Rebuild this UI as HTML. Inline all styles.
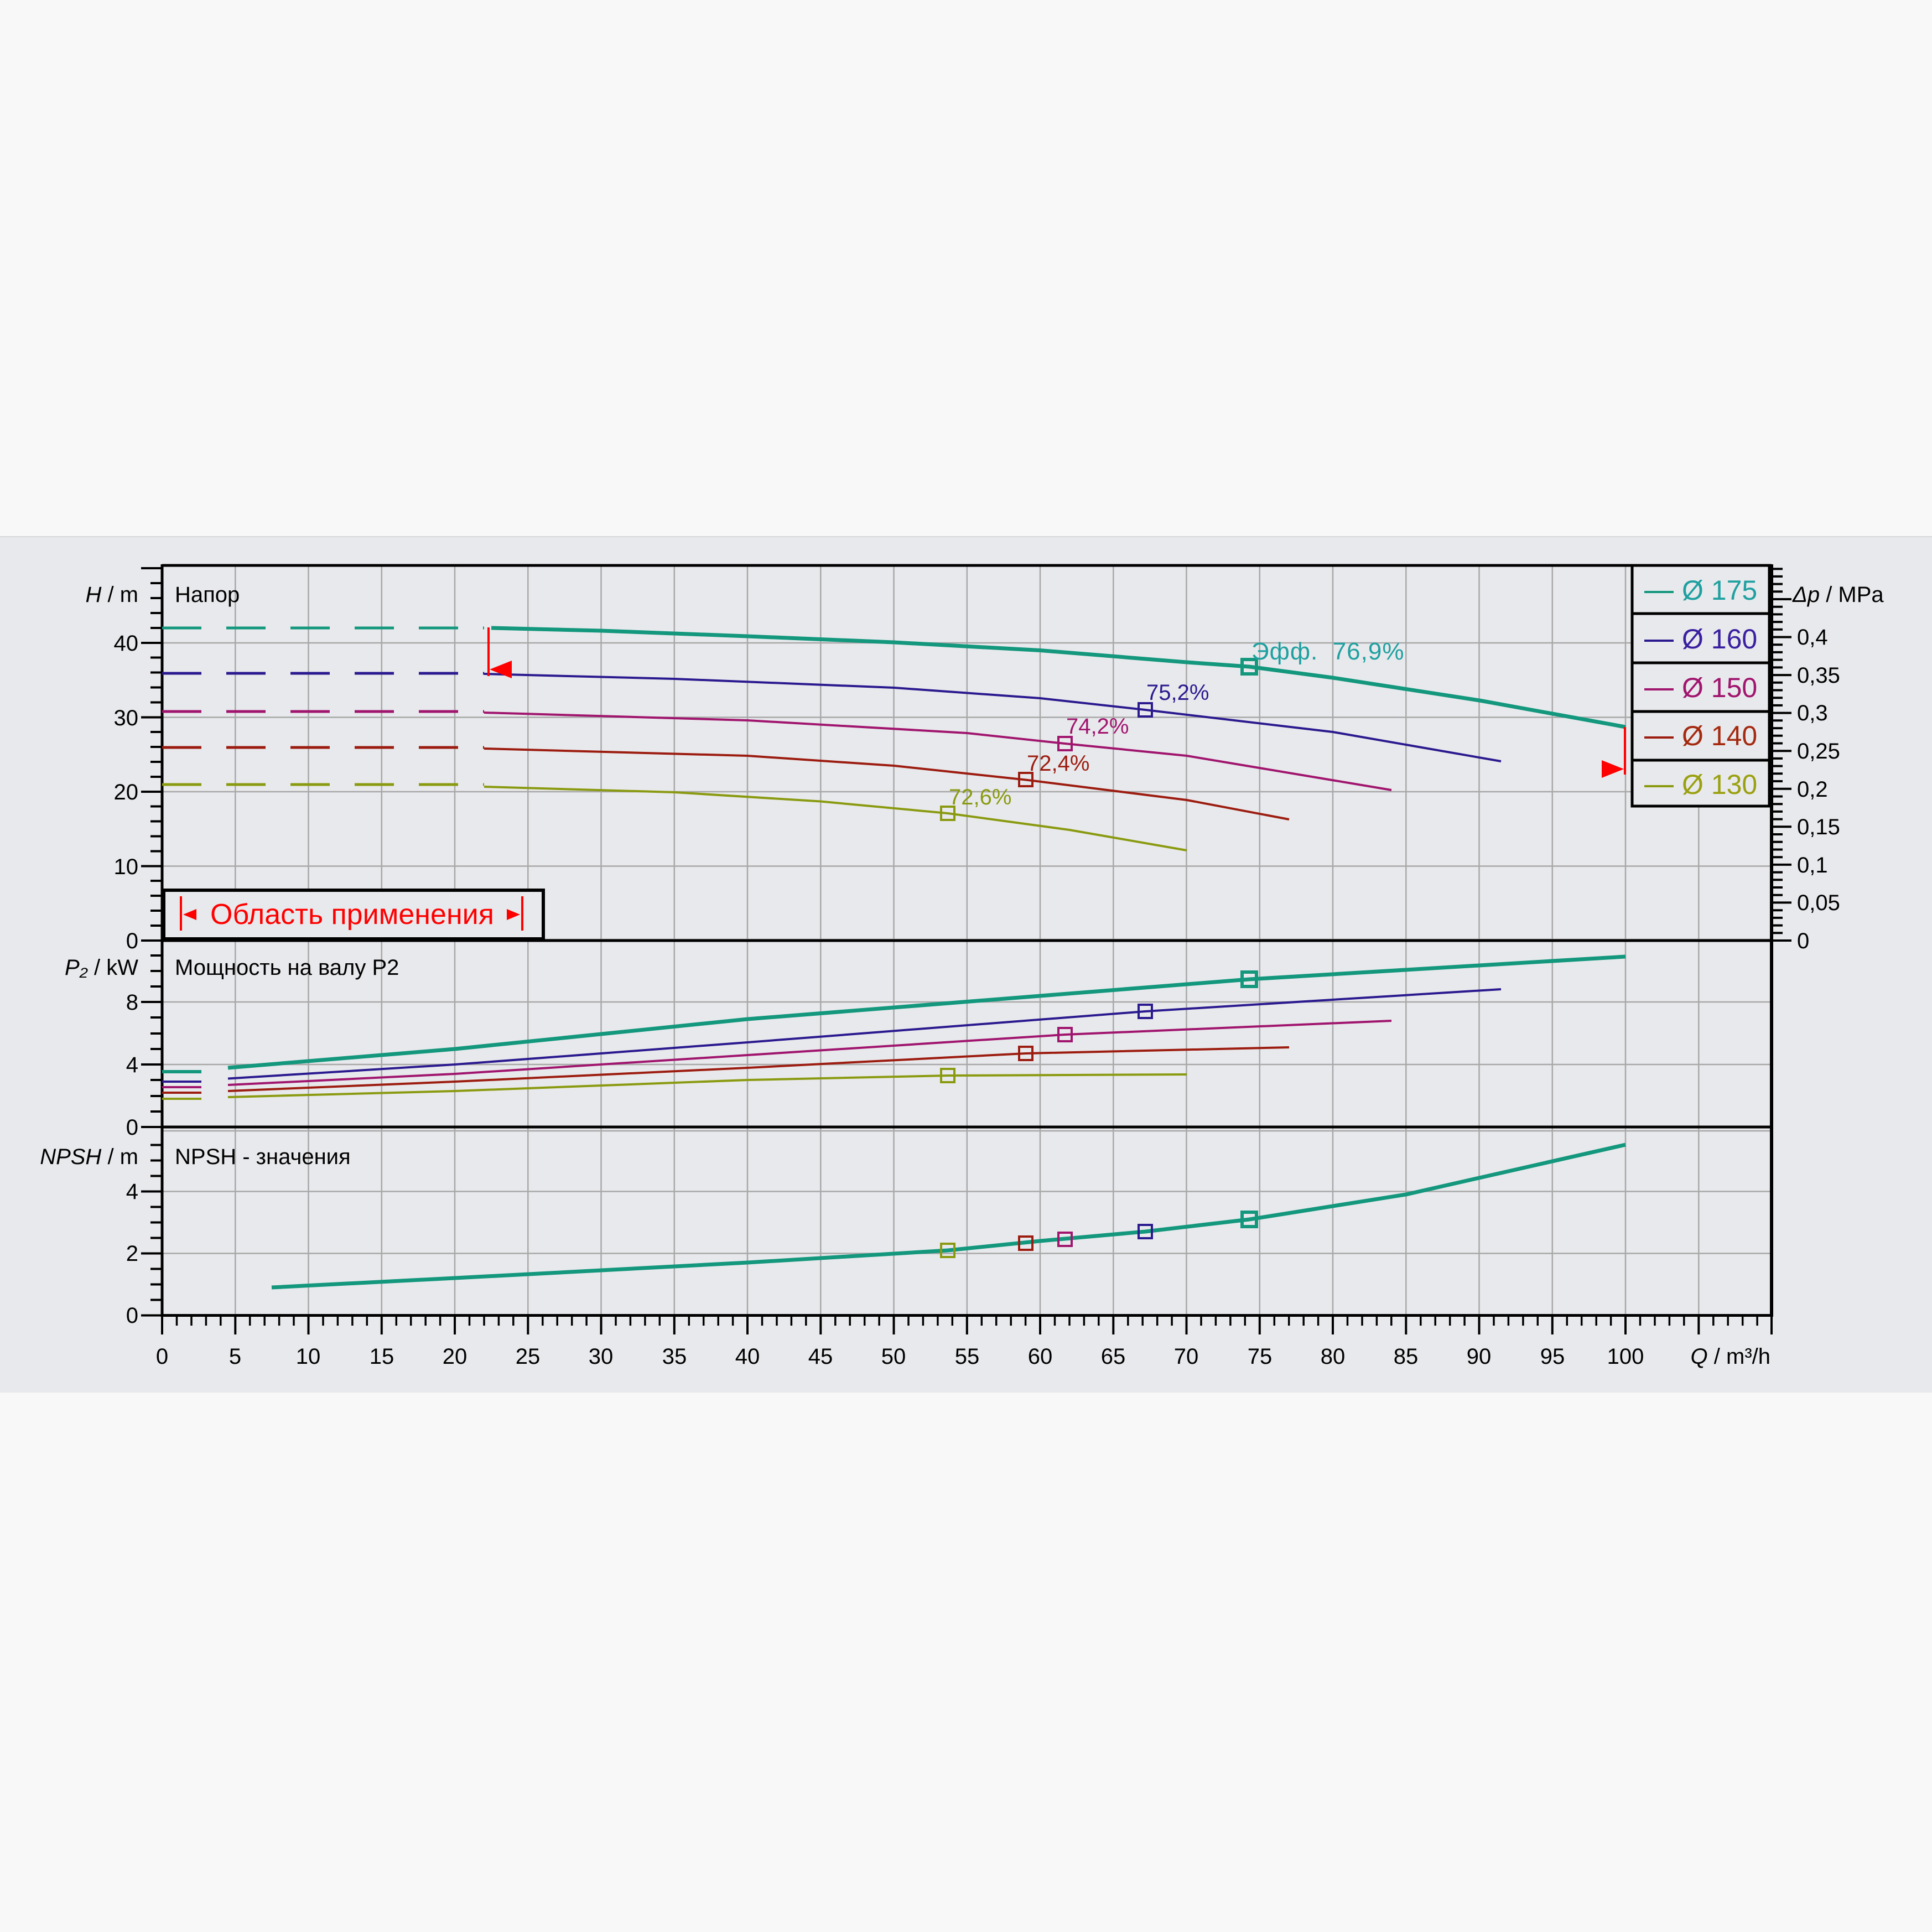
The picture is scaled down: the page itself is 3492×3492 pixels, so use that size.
<!DOCTYPE html>
<html><head><meta charset="utf-8"><style>
html,body{margin:0;padding:0;background:#f7f7f7;}
svg{display:block;}
text{font-family:"Liberation Sans","DejaVu Sans",sans-serif;}
</style></head><body>
<svg width="3492" height="3492" viewBox="0 0 3492 3492" xmlns="http://www.w3.org/2000/svg">
<rect x="0" y="0" width="3492" height="3492" fill="#f8f8f8"/>
<rect x="0" y="970" width="3492" height="1547" fill="#e8e9ec"/>
<line x1="0" y1="970" x2="3492" y2="970" stroke="#d8d8d8" stroke-width="2"/>
<!-- grid -->
<g stroke="#a8a8a8" stroke-width="2.5">
<path d="M425.3 1022V2377M557.5 1022V2377M689.8 1022V2377M822 1022V2377M954.3 1022V2377M1086.5 1022V2377M1218.8 1022V2377M1351 1022V2377M1483.3 1022V2377M1615.5 1022V2377M1747.8 1022V2377M1880 1022V2377M2012.3 1022V2377M2144.5 1022V2377M2276.8 1022V2377M2409 1022V2377M2541.3 1022V2377M2673.5 1022V2377M2805.8 1022V2377M2938 1022V2377M3070.3 1022V2377"/>
<path d="M293 1565.5H3202M293 1431H3202M293 1296.5H3202M293 1162H3202"/>
<path d="M293 1924H3202M293 1811H3202M293 1698H3202"/>
<path d="M293 2044H3202M293 2153.5H3202M293 2265.5H3202"/>
</g>
<!-- frame -->
<g stroke="#000" fill="none">
<line x1="293" y1="1022" x2="3202" y2="1022" stroke-width="5"/>
<line x1="293" y1="1700" x2="3202" y2="1700" stroke-width="5"/>
<line x1="293" y1="2037" x2="3202" y2="2037" stroke-width="5"/>
<line x1="293" y1="2377.5" x2="3202" y2="2377.5" stroke-width="5"/>
<line x1="293" y1="1020" x2="293" y2="2380" stroke-width="5"/>
<line x1="3202" y1="1020" x2="3202" y2="2380" stroke-width="6"/>
</g>
<!-- left ticks -->
<g stroke="#000" stroke-width="4">
<path d="M255 1700H293M255 1565.5H293M255 1431H293M255 1296.5H293M255 1162H293"/>
<path d="M272 1673H293M272 1646H293M272 1619H293M272 1592H293M272 1538.5H293M272 1511.5H293M272 1484.5H293M272 1457.5H293M272 1404H293M272 1377H293M272 1350H293M272 1323H293M272 1269.5H293M272 1242.5H293M272 1215.5H293M272 1188.5H293M272 1135H293M272 1108H293M272 1081H293M272 1054H293M255 1027H293"/>
<path d="M255 2037H293M255 1924H293M255 1811H293M272 2009H293M272 1981H293M272 1952H293M272 1896H293M272 1868H293M272 1839H293M272 1783H293M272 1755H293M272 1727H293"/>
<path d="M255 2377.5H293M255 2265.5H293M255 2153.5H293M272 2349.5H293M272 2321.5H293M272 2293.5H293M272 2237.5H293M272 2209.5H293M272 2181.5H293M272 2125.5H293M272 2097.5H293M272 2069.5H293"/>
</g>
<!-- x ticks -->
<g stroke="#000" stroke-width="4">
<path d="M293 2377V2412M425.3 2377V2412M557.5 2377V2412M689.8 2377V2412M822 2377V2412M954.3 2377V2412M1086.5 2377V2412M1218.8 2377V2412M1351 2377V2412M1483.3 2377V2412M1615.5 2377V2412M1747.8 2377V2412M1880 2377V2412M2012.3 2377V2412M2144.5 2377V2412M2276.8 2377V2412M2409 2377V2412M2541.3 2377V2412M2673.5 2377V2412M2805.8 2377V2412M2938 2377V2412M3070.3 2377V2412M3202 2377V2412"/>
</g>
<g stroke="#000" stroke-width="3.5">
<path d="M319.5 2377V2396M346 2377V2396M372.4 2377V2396M398.8 2377V2396M451.7 2377V2396M478.2 2377V2396M504.6 2377V2396M531 2377V2396M584 2377V2396M610.4 2377V2396M636.9 2377V2396M663.3 2377V2396M716.3 2377V2396M742.7 2377V2396M769.2 2377V2396M795.6 2377V2396M848.5 2377V2396M875 2377V2396M901.4 2377V2396M927.8 2377V2396M980.8 2377V2396M1007.2 2377V2396M1033.7 2377V2396M1060.1 2377V2396M1113 2377V2396M1139.4 2377V2396M1165.9 2377V2396M1192.3 2377V2396M1245.3 2377V2396M1271.7 2377V2396M1298.2 2377V2396M1324.6 2377V2396M1377.5 2377V2396M1404 2377V2396M1430.4 2377V2396M1456.8 2377V2396M1509.8 2377V2396M1536.2 2377V2396M1562.7 2377V2396M1589.1 2377V2396M1642 2377V2396M1668.4 2377V2396M1694.9 2377V2396M1721.3 2377V2396M1774.3 2377V2396M1800.7 2377V2396M1827.2 2377V2396M1853.6 2377V2396M1906.5 2377V2396M1933 2377V2396M1959.4 2377V2396M1985.8 2377V2396M2038.8 2377V2396M2065.2 2377V2396M2091.7 2377V2396M2118.1 2377V2396M2171 2377V2396M2197.4 2377V2396M2223.9 2377V2396M2250.3 2377V2396M2303.3 2377V2396M2329.7 2377V2396M2356.2 2377V2396M2382.6 2377V2396M2435.5 2377V2396M2462 2377V2396M2488.4 2377V2396M2514.8 2377V2396M2567.8 2377V2396M2594.2 2377V2396M2620.7 2377V2396M2647.1 2377V2396M2700 2377V2396M2726.4 2377V2396M2752.9 2377V2396M2779.3 2377V2396M2832.3 2377V2396M2858.7 2377V2396M2885.2 2377V2396M2911.6 2377V2396M2964.5 2377V2396M2991 2377V2396M3017.4 2377V2396M3043.8 2377V2396M3096.8 2377V2396M3123.2 2377V2396M3149.7 2377V2396M3176.1 2377V2396"/>
</g>
<!-- right ticks -->
<g stroke="#000" stroke-width="4">
<path d="M3202 1700H3238M3202 1631.4H3238M3202 1562.9H3238M3202 1494.3H3238M3202 1425.8H3238M3202 1357.2H3238M3202 1288.6H3238M3202 1220.1H3238M3202 1151.5H3238M3202 1083H3238"/>
<path d="M3202 1686.3H3222M3202 1672.6H3222M3202 1658.9H3222M3202 1645.2H3222M3202 1617.7H3222M3202 1604H3222M3202 1590.3H3222M3202 1576.6H3222M3202 1549.2H3222M3202 1535.5H3222M3202 1521.8H3222M3202 1508H3222M3202 1480.6H3222M3202 1466.9H3222M3202 1453.2H3222M3202 1439.5H3222M3202 1412H3222M3202 1398.3H3222M3202 1384.6H3222M3202 1370.9H3222M3202 1343.5H3222M3202 1329.8H3222M3202 1316.1H3222M3202 1302.3H3222M3202 1274.9H3222M3202 1261.2H3222M3202 1247.5H3222M3202 1233.8H3222M3202 1206.4H3222M3202 1192.6H3222M3202 1178.9H3222M3202 1165.2H3222M3202 1137.8H3222M3202 1124.1H3222M3202 1110.4H3222M3202 1096.7H3222M3202 1069.3H3222M3202 1055.6H3222M3202 1041.9H3222M3202 1028.2H3222"/>
</g>
<!-- tick labels -->
<g font-size="40" fill="#000" text-anchor="end">
<text x="250" y="1714">0</text><text x="250" y="1580">10</text><text x="250" y="1445">20</text><text x="250" y="1311">30</text><text x="250" y="1176">40</text>
<text x="250" y="2051">0</text><text x="250" y="1938">4</text><text x="250" y="1825">8</text>
<text x="250" y="2391">0</text><text x="250" y="2279">2</text><text x="250" y="2167">4</text>
</g>
<g font-size="40" fill="#000" text-anchor="start">
<text x="3248" y="1714">0</text><text x="3248" y="1645">0,05</text><text x="3248" y="1577">0,1</text><text x="3248" y="1508">0,15</text><text x="3248" y="1440">0,2</text><text x="3248" y="1371">0,25</text><text x="3248" y="1302">0,3</text><text x="3248" y="1234">0,35</text><text x="3248" y="1165">0,4</text>
<text x="3240" y="1088"><tspan font-style="italic">Δp</tspan> / MPa</text>
</g>
<g font-size="40" fill="#000" text-anchor="middle">
<text x="293" y="2465">0</text><text x="425" y="2465">5</text><text x="557" y="2465">10</text><text x="690" y="2465">15</text><text x="822" y="2465">20</text><text x="954" y="2465">25</text><text x="1086" y="2465">30</text><text x="1219" y="2465">35</text><text x="1351" y="2465">40</text><text x="1483" y="2465">45</text><text x="1615" y="2465">50</text><text x="1748" y="2465">55</text><text x="1880" y="2465">60</text><text x="2012" y="2465">65</text><text x="2144" y="2465">70</text><text x="2277" y="2465">75</text><text x="2409" y="2465">80</text><text x="2541" y="2465">85</text><text x="2673" y="2465">90</text><text x="2806" y="2465">95</text><text x="2938" y="2465">100</text>
</g>
<text x="3200" y="2465" font-size="40" text-anchor="end"><tspan font-style="italic">Q</tspan> / m³/h</text>
<g font-size="40" fill="#000" text-anchor="end">
<text x="250" y="1088"><tspan font-style="italic">H</tspan> / m</text>
<text x="250" y="1762"><tspan font-style="italic">P₂</tspan> / kW</text>
<text x="250" y="2104"><tspan font-style="italic">NPSH</tspan> / m</text>
</g>
<g font-size="40" fill="#000">
<text x="316" y="1088">Напор</text>
<text x="316" y="1762">Мощность на валу P2</text>
<text x="316" y="2104">NPSH - значения</text>
</g>
<!-- H curves -->
<g fill="none" stroke-linejoin="round">
<path d="M293 1135H875" stroke="#13977d" stroke-width="5" stroke-dasharray="71 45"/>
<polyline points="888,1135 1087,1140 1351,1150 1616,1161 1880,1175.5 2145,1197 2258,1205 2409,1225 2674,1266 2938,1314" stroke="#13977d" stroke-width="7"/>
<path d="M293 1217H875" stroke="#2a1a8f" stroke-width="5" stroke-dasharray="71 45"/>
<polyline points="875,1218 1219,1227 1616,1243 1880,1262 2070,1283 2409,1323 2713,1376" stroke="#2a1a8f" stroke-width="4"/>
<path d="M293 1286H875" stroke="#a0156e" stroke-width="5" stroke-dasharray="71 45"/>
<polyline points="875,1288 1351,1302 1748,1325 1925,1344 2145,1366 2515,1428" stroke="#a0156e" stroke-width="4"/>
<path d="M293 1351H875" stroke="#9c1c10" stroke-width="5" stroke-dasharray="71 45"/>
<polyline points="875,1353 1351,1366 1616,1384 1854,1409.5 2145,1446 2330,1481" stroke="#9c1c10" stroke-width="4"/>
<path d="M293 1418H875" stroke="#8a9a10" stroke-width="5" stroke-dasharray="71 45"/>
<polyline points="875,1422 1219,1432 1483,1448.5 1713,1470 1933,1500 2145,1537" stroke="#8a9a10" stroke-width="4"/>
</g>
<!-- P curves -->
<g fill="none" stroke-linejoin="round">
<path d="M293 1937H364" stroke="#13977d" stroke-width="6"/>
<polyline points="412,1930 822,1896 1351,1842 1880,1800 2258,1770 2938,1729" stroke="#13977d" stroke-width="7"/>
<path d="M293 1955H364" stroke="#2a1a8f" stroke-width="4"/>
<polyline points="412,1949.5 822,1924 1351,1884 2070,1828 2713,1788" stroke="#2a1a8f" stroke-width="4"/>
<path d="M293 1965H364" stroke="#a0156e" stroke-width="4"/>
<polyline points="412,1961 822,1941 1351,1907 1925,1870 2515,1845" stroke="#a0156e" stroke-width="4"/>
<path d="M293 1975H364" stroke="#9c1c10" stroke-width="4"/>
<polyline points="412,1972 822,1955 1351,1930 1854,1904 2330,1893" stroke="#9c1c10" stroke-width="4"/>
<path d="M293 1986H364" stroke="#8a9a10" stroke-width="4"/>
<polyline points="412,1983 822,1972 1351,1952 1713,1944 2145,1942" stroke="#8a9a10" stroke-width="4"/>
</g>
<!-- NPSH -->
<polyline points="491,2327 822,2310 1087,2296 1351,2282 1713,2260 1880,2243 2070,2226 2258,2204 2541,2159 2938,2069" fill="none" stroke="#13977d" stroke-width="7"/>
<!-- markers -->
<g fill="none">
<rect x="2245" y="1192" width="26" height="26" stroke="#13977d" stroke-width="6"/>
<rect x="2058" y="1271" width="24" height="24" stroke="#2a1a8f" stroke-width="4"/>
<rect x="1913" y="1332" width="24" height="24" stroke="#a0156e" stroke-width="4"/>
<rect x="1842" y="1397" width="24" height="24" stroke="#9c1c10" stroke-width="4"/>
<rect x="1701" y="1458" width="24" height="24" stroke="#8a9a10" stroke-width="4"/>
<rect x="2245" y="1757" width="26" height="26" stroke="#13977d" stroke-width="6"/>
<rect x="2058" y="1816" width="24" height="24" stroke="#2a1a8f" stroke-width="4"/>
<rect x="1913" y="1858" width="24" height="24" stroke="#a0156e" stroke-width="4"/>
<rect x="1842" y="1892" width="24" height="24" stroke="#9c1c10" stroke-width="4"/>
<rect x="1701" y="1932" width="24" height="24" stroke="#8a9a10" stroke-width="4"/>
<rect x="2245" y="2191" width="26" height="26" stroke="#13977d" stroke-width="6"/>
<rect x="2058" y="2214" width="24" height="24" stroke="#2a1a8f" stroke-width="4"/>
<rect x="1913" y="2228" width="24" height="24" stroke="#a0156e" stroke-width="4"/>
<rect x="1842" y="2235" width="24" height="24" stroke="#9c1c10" stroke-width="4"/>
<rect x="1701" y="2248" width="24" height="24" stroke="#8a9a10" stroke-width="4"/>
</g>
<g font-size="40">
<text x="2262" y="1192" fill="#1fa0a0" font-size="44" letter-spacing="1" xml:space="preserve">Эфф.  76,9%</text>
<text x="2072" y="1265" fill="#2a1a8f">75,2%</text>
<text x="1927" y="1326" fill="#a0156e">74,2%</text>
<text x="1856" y="1393" fill="#9c1c10">72,4%</text>
<text x="1715" y="1454" fill="#8a9a10">72,6%</text>
</g>
<!-- red markers -->
<line x1="883" y1="1134" x2="883" y2="1222" stroke="#ff0000" stroke-width="4"/>
<polygon points="885,1210 925,1194 925,1226" fill="#ff0000"/>
<line x1="2937" y1="1314" x2="2937" y2="1400" stroke="#ff0000" stroke-width="4"/>
<polygon points="2935,1390 2895,1374 2895,1406" fill="#ff0000"/>
<!-- application box -->
<rect x="296" y="1609" width="686" height="88" fill="#e8e9ec" stroke="#000" stroke-width="6"/>
<line x1="327" y1="1620" x2="327" y2="1682" stroke="#ff0000" stroke-width="4"/>
<polygon points="331,1653 355,1643 355,1663" fill="#ff0000"/>
<line x1="944" y1="1620" x2="944" y2="1682" stroke="#ff0000" stroke-width="4"/>
<polygon points="940,1653 916,1643 916,1663" fill="#ff0000"/>
<text x="380" y="1670" font-size="52" fill="#ff0000">Область применения</text>
<!-- legend -->
<g>
<rect x="2950" y="1022" width="248" height="435" fill="#e8e9ec" stroke="#000" stroke-width="5"/>
<path d="M2950 1109H3198M2950 1198H3198M2950 1286H3198M2950 1374H3198" stroke="#000" stroke-width="5"/>
<path d="M2972 1070H3025" stroke="#13977d" stroke-width="4"/>
<path d="M2972 1158H3025" stroke="#2a1a8f" stroke-width="4"/>
<path d="M2972 1246H3025" stroke="#a0156e" stroke-width="4"/>
<path d="M2972 1333H3025" stroke="#9c1c10" stroke-width="4"/>
<path d="M2972 1421H3025" stroke="#8a9a10" stroke-width="4"/>
<g font-size="50">
<text x="3040" y="1084" fill="#1fa0a0">Ø 175</text>
<text x="3040" y="1172" fill="#3a20a0">Ø 160</text>
<text x="3040" y="1260" fill="#a0156e">Ø 150</text>
<text x="3040" y="1347" fill="#a42a10">Ø 140</text>
<text x="3040" y="1435" fill="#9aa010">Ø 130</text>
</g>
</g>
</svg>
</body></html>
